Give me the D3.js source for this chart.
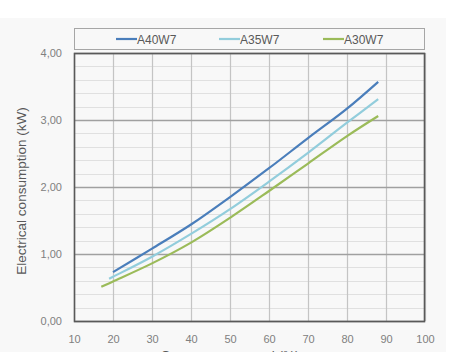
<!DOCTYPE html>
<html><head><meta charset="utf-8">
<script src="https://cdn.jsdelivr.net/npm/d3@7"></script>
<style>body{margin:0;background:#fff;}svg{display:block;font-family:"Liberation Sans",Arial,sans-serif;}</style>
</head><body>
<svg id="c" width="452" height="352"></svg>
<script>
const seriesNames = ["A40W7", "A35W7", "A30W7"];
const seriesColors = ["#4a7ebb", "#92cddc", "#9bbb59"];
const a40x = [20, 30, 40, 50, 60, 70, 80, 88];
const a40y = [0.73, 1.08, 1.44, 1.85, 2.28, 2.73, 3.17, 3.57];
const a35x = [19, 20, 30, 40, 50, 60, 70, 80, 88];
const a35y = [0.63, 0.66, 0.96, 1.30, 1.67, 2.08, 2.51, 2.96, 3.31];
const a30x = [17, 20, 30, 40, 50, 60, 70, 80, 88];
const a30y = [0.51, 0.59, 0.86, 1.17, 1.54, 1.94, 2.35, 2.76, 3.06];
const xTicks = [10, 20, 30, 40, 50, 60, 70, 80, 90, 100];
const yTicks = [0, 1, 2, 3, 4];
const yMinor = d3.range(0, 4.001, 0.2);
const xTitle = "Compressor speed (%)";
const yTitle = "Electrical consumption (kW)";

const svg = d3.select("#c");
const L = 74, R = 425, T = 53, B = 321;
svg.append("rect").attr("x", 0).attr("y", 18).attr("width", 446).attr("height", 334).attr("fill", "#f8f8f8");

const x = d3.scaleLinear().domain([10, 100]).range([L, R]);
const y = d3.scaleLinear().domain([0, 4]).range([B, T]);

// minor horizontal grid
svg.append("g").selectAll("line").data(yMinor).join("line")
  .attr("x1", L).attr("x2", R).attr("y1", d => Math.round(y(d)) + 0.5).attr("y2", d => Math.round(y(d)) + 0.5)
  .attr("stroke", "#e0e0e0").attr("stroke-width", 1);
// vertical grid
svg.append("g").selectAll("line").data(xTicks).join("line")
  .attr("y1", T).attr("y2", B).attr("x1", d => Math.round(x(d)) + 0.5).attr("x2", d => Math.round(x(d)) + 0.5)
  .attr("stroke", "#c4c4c4").attr("stroke-width", 1.2);
// major horizontal grid
svg.append("g").selectAll("line").data(yTicks).join("line")
  .attr("x1", L).attr("x2", R).attr("y1", d => Math.round(y(d)) + 0.5).attr("y2", d => Math.round(y(d)) + 0.5)
  .attr("stroke", "#a0a0a0").attr("stroke-width", 1.3);

// axes via d3
const xAxis = d3.axisBottom(x).tickValues(xTicks).tickSize(0).tickPadding(14).tickFormat(d3.format("d"));
const gx = svg.append("g").attr("transform", `translate(0,${B})`).call(xAxis);
gx.select(".domain").remove();
gx.selectAll("text").attr("fill", "#808080").style("font-size", "11px");

const fmt = d => d3.format(".2f")(d).replace(".", ",");
const yAxis = d3.axisLeft(y).tickValues(yTicks).tickSize(0).tickPadding(12).tickFormat(fmt);
const gy = svg.append("g").attr("transform", `translate(${L},0)`).call(yAxis);
gy.select(".domain").remove();
gy.selectAll("text").attr("fill", "#808080").style("font-size", "11px");

// plot border
svg.append("rect").attr("x", L + 0.5).attr("y", T + 0.5).attr("width", R - L - 1).attr("height", B - T)
  .attr("fill", "none").attr("stroke", "#595959").attr("stroke-width", 1.6);

// lines
const data = [
  a40x.map((v, i) => [v, a40y[i]]),
  a35x.map((v, i) => [v, a35y[i]]),
  a30x.map((v, i) => [v, a30y[i]])
];
const line = d3.line().x(d => x(d[0])).y(d => y(d[1])).curve(d3.curveCatmullRom.alpha(0.5));
svg.append("g").selectAll("path").data(data).join("path")
  .attr("d", line).attr("fill", "none")
  .attr("stroke", (d, i) => seriesColors[i]).attr("stroke-width", 2.2);

// legend
svg.append("rect").attr("x", L + 0.5).attr("y", 28.5).attr("width", R - L - 1).attr("height", 21)
  .attr("fill", "#f8f8f8").attr("stroke", "#a6a6a6").attr("stroke-width", 1);
const legX = [116, 219, 323];
const lg = svg.append("g").selectAll("g").data(seriesNames).join("g")
  .attr("transform", (d, i) => `translate(${legX[i]},39)`);
lg.append("line").attr("x1", 0).attr("x2", 21).attr("y1", 0).attr("y2", 0)
  .attr("stroke", (d, i) => seriesColors[i]).attr("stroke-width", 2.2);
lg.append("text").attr("x", 21).attr("y", 4.5).text(d => d)
  .attr("fill", "#595959").style("font-size", "12px");

// titles
svg.append("text").attr("x", 230).attr("y", 359.5).attr("text-anchor", "middle")
  .attr("fill", "#595959").style("font-size", "13.5px").text(xTitle);
svg.append("text").attr("transform", `translate(26,191) rotate(-90)`).attr("text-anchor", "middle")
  .attr("fill", "#595959").style("font-size", "13.5px").text(yTitle);
</script>
</body></html>
